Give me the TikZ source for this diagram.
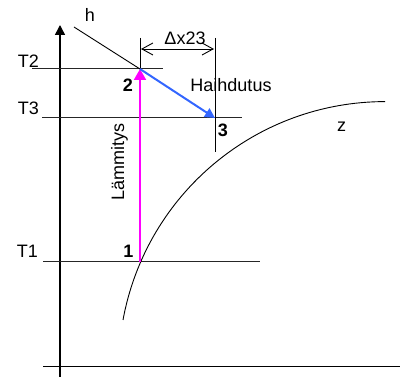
\documentclass[tikz,border=0pt]{standalone}
\usepackage{fontspec}
\setmainfont{Liberation Sans}
\usetikzlibrary{arrows.meta}
\definecolor{mag}{RGB}{255,0,255}
\definecolor{blu}{RGB}{51,102,255}
\begin{document}
\begin{tikzpicture}[x=1pt,y=1pt,
  lbl/.style={font=\fontsize{18}{21}\selectfont, inner sep=0pt, anchor=base},
  num/.style={lbl, font=\fontsize{18}{21}\selectfont\bfseries},
  axis/.style={line width=1.5pt},
  thin/.style={line width=1pt, draw=black!85},
]
\useasboundingbox (0,0) rectangle (402,383);
% coordinates
\coordinate (ax0) at (60,6);
\coordinate (axtop) at (60,358);
\coordinate (hx0) at (43,16.3);
\coordinate (hx1) at (400,16.3);
\coordinate (p1) at (140,121);
\coordinate (p2) at (140,314);
\coordinate (p3) at (215,265);
\coordinate (t2a) at (32,314);
\coordinate (t2b) at (163,314);
\coordinate (t3a) at (42,265);
\coordinate (t3b) at (242,265);
\coordinate (t1a) at (43,121);
\coordinate (t1b) at (260,121);
\coordinate (h0) at (74,356);
\coordinate (v2top) at (140,345);
\coordinate (v3top) at (215,345);
\coordinate (v3bot) at (215,231);
\coordinate (d0) at (141,334);
\coordinate (d1) at (214,334);
\coordinate (c0) at (123,63);
% axes
\draw[axis,-{Triangle[length=10pt,width=10pt]}] (ax0) -- (axtop);
\draw[axis] (hx0) -- (hx1);
% temperature lines
\draw[thin] (t2a) -- (t2b);
\draw[thin] (t3a) -- (t3b);
\draw[thin] (t1a) -- (t1b);
% h line
\draw[line width=0.9pt] (h0) -- (p2);
% vertical dimension lines
\draw[line width=0.9pt] (v2top) -- (p2);
\draw[line width=0.9pt] (v3top) -- (v3bot);
\draw[line width=0.9pt,{Straight Barb[length=11pt,width=12pt]}-{Straight Barb[length=11pt,width=12pt]}] (d0) -- (d1);
% curve z
\draw[line width=0.9pt] (c0) arc[start angle=169.6, end angle=90, radius=266.5pt];
% process arrows
\draw[mag,line width=2pt,-{Triangle[length=11pt,width=12pt]}] (p1) -- (p2);
\draw[blu,line width=2pt,-{Triangle[length=10pt,width=10pt]}] (p2) -- (p3);
% labels
\node[lbl] (lT2) at (28.5,315) {T2};
\node[lbl] (lT3) at (28.5,268) {T3};
\node[lbl] (lT1) at (27.5,125) {T1};
\node[lbl] (lh) at (90,361) {h};
\node[lbl] (ldx) at (185,338) {Δx23};
\node[lbl] (lhai) at (231,291) {Haihdutus};
\node[lbl] (lz) at (341.5,251) {z};
\node[lbl,rotate=90] (llam) at (124,221) {Lämmitys};
\node[num] (n2) at (128,291) {2};
\node[num] (n3) at (223,246) {3};
\node[num] (n1) at (128.5,125) {1};
\end{tikzpicture}
\end{document}
